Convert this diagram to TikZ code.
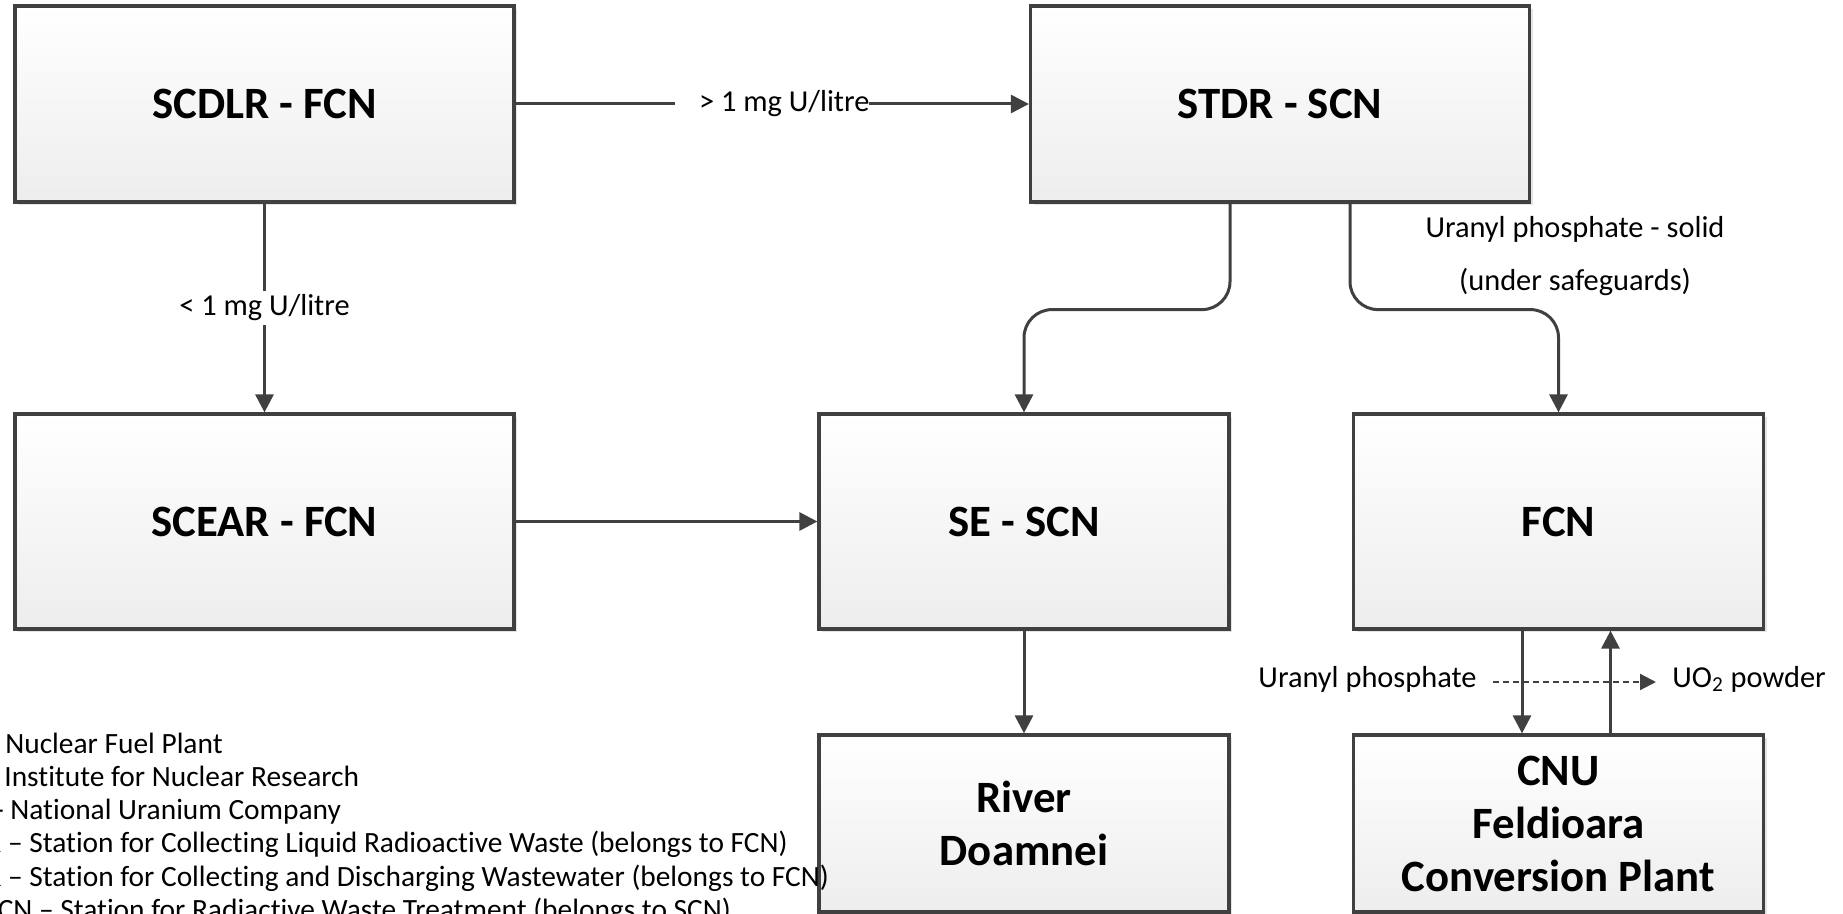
\documentclass[tikz,border=0pt]{standalone}
\usepackage{fontspec}
\setmainfont{Carlito}[Ligatures=NoCommon]
\usetikzlibrary{arrows.meta,shadows}
\definecolor{edge}{HTML}{404040}
\begin{document}
\begin{tikzpicture}[x=0.5pt,y=-0.5pt,
  box/.style={draw=edge, line width=1.6pt, top color=white, bottom color=black!7,
    inner sep=0pt, align=center, font=\fontsize{22.4}{26.5}\selectfont\bfseries,
    general shadow={fill=black!10, shadow xshift=1.5pt, shadow yshift=-1.5pt}},
  wide/.style={minimum width=249.5pt},
  narrow/.style={minimum width=205pt},
  arr/.style={draw=edge, line width=1.5pt, -{Triangle[length=9pt,width=9pt]}},
  lbl/.style={font=\fontsize{15.2}{18}\selectfont, text=black},
  fixh/.style={text height=0.75em, text depth=0.25em},
  leg/.style={font=\fontsize{14.7}{18}\selectfont, anchor=base west, inner sep=0pt},
]
\useasboundingbox (0,0) rectangle (1843,914);
\clip (0,0) rectangle (1843,914);

\node[box, wide, minimum height=98pt] (scdlr) at (264.5,104) {SCDLR - FCN};
\node[box, wide, minimum height=98pt] (stdr) at (1280,104) {STDR - SCN};
\node[box, wide, minimum height=107.5pt] (scear) at (264.5,521.5) {SCEAR - FCN};
\node[box, narrow, minimum height=107.5pt] (se) at (1024,521.5) {SE - SCN};
\node[box, narrow, minimum height=107.5pt] (fcn) at (1558.5,521.5) {FCN};
\node[box, narrow, minimum height=88.5pt] (river) at (1024,823.5) {River\\Doamnei};
\node[box, narrow, minimum height=88.5pt] (cnu) at (1558.5,823.5) {CNU\\Feldioara\\Conversion Plant};

\draw[arr] (scdlr) -- node[lbl, fill=white, inner xsep=0pt, inner ysep=1pt] {\hspace*{12pt}> 1 mg U/litre} (stdr);
\draw[arr] (scdlr) -- node[lbl, fill=white, inner sep=2pt] {< 1 mg U/litre} (scear);
\draw[arr] (scear) -- (se);
\draw[arr, rounded corners=14pt] ([xshift=-25pt]stdr.south) -- ++(0,106) -| (se.north);
\draw[arr, rounded corners=14pt] ([xshift=35pt]stdr.south) -- ++(0,106) -| (fcn.north);
\draw[arr] (se) -- (river);
\draw[arr] ([xshift=-18.25pt]fcn.south) -- ([xshift=-18.25pt]cnu.north);
\draw[arr] ([xshift=26pt]cnu.north) -- ([xshift=26pt]fcn.south);

\node[lbl] (sol1) at (1575,229) {Uranyl phosphate - solid};
\node[lbl] (sol2) at (1575,282) {(under safeguards)};
\node[lbl, fixh, anchor=east, inner sep=0pt] (up) at (1477,682) {Uranyl phosphate};
\node[lbl, fixh, anchor=west, inner sep=0pt] (uo2) at (1672,682) {UO\textsubscript{2} powder};
\draw[draw=edge, line width=1.1pt, dash pattern=on 3pt off 2pt, -{Triangle[length=8pt,width=8pt]}] ([xshift=8pt]up.east) -- ([xshift=-8pt]uo2.west);

\node[leg] (l1) at (5,753) {\llap{FCN - }Nuclear Fuel Plant};
\node[leg] (l2) at (4,786) {\llap{SCN - }Institute for Nuclear Research};
\node[leg] (l3) at (10,819) {\llap{CNU - }National Uranium Company};
\node[leg] (l4) at (29,852) {\llap{SCDLR – }Station for Collecting Liquid Radioactive Waste (belongs to FCN)};
\node[leg] (l5) at (29,886) {\llap{SCEAR – }Station for Collecting and Discharging Wastewater (belongs to FCN)};
\node[leg] (l6) at (60,919) {\llap{STDR-SCN – }Station for Radiactive Waste Treatment (belongs to SCN)};
\end{tikzpicture}
\end{document}
